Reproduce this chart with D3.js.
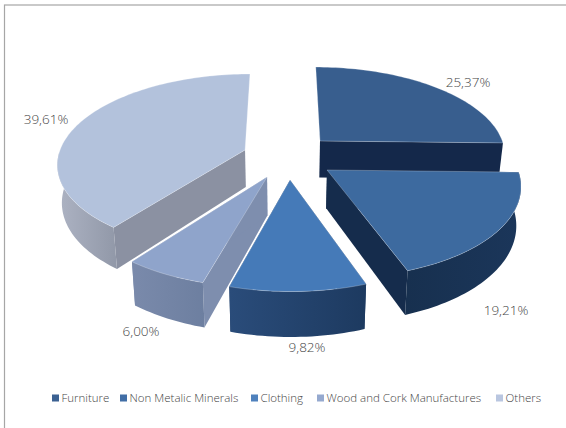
<!DOCTYPE html>
<html>
<head>
<meta charset="utf-8">
<script src="https://cdnjs.cloudflare.com/ajax/libs/d3/7.8.5/d3.min.js"></script>
<style>
  html, body { margin: 0; padding: 0; background: #fff; }
  svg { display: block; }
  text { font-family: "Open Sans", sans-serif; font-weight: 300; fill: #454545; }
</style>
</head>
<body>
<svg id="chart" width="566" height="428"></svg>
<script>
// Export shares by product group, in percent.
const categories = ["Furniture", "Non Metalic Minerals", "Clothing", "Wood and Cork Manufactures", "Others"];
const shares = [25.37, 19.21, 9.82, 6.00, 39.61];

// Fills per slice: top face, curved wall (left to right), radial wall.
const topColors = ["#385e8e", "#3d6a9f", "#457ab8", "#8fa4cb", "#b3c2dc"];
const legendColors = ["#3b6192", "#416ea6", "#4f81bd", "#95a9cf", "#b9c6e0"];
const wallLeft = ["#1a2f50", "#17304f", "#2a4c7a", "#7a8aab", "#adb3c3"];
const wallRight = ["#14294a", "#1b365a", "#1d3a60", "#6d7fa0", "#9198a8"];
const radialColors = ["#14284a", "#152c4c", "#1f3c63", "#7e8eae", "#8b91a2"];

// Horizontal shift of each slice away from the pie centre, in disc radii,
// across (u) and towards the viewer (v).
const shiftU = [0.192, 0.22, 0.026, -0.093, -0.216];
const shiftV = [-0.1056, 0.2237, 0.33, 0.2987, 0];

const perspective = 0.14;
const depth = 37;

const xScale = d3.scaleLinear().domain([-1, 1]).range([100, 470]);
const yScale = d3.scaleLinear().domain([-1, 1]).range([63.4, 236.6]);

// Perspective projection of a disc point; z = 1 is the underside of the pie.
function project(u, v, z) {
  const s = 1 / (1 - perspective * v);
  const shrink = 1 - 0.02 * z;
  const cx = xScale(0);
  return [cx + (xScale(u * s) - cx) * shrink, yScale(v * s) + z * depth * s];
}

const arcs = d3.pie().sort(null).startAngle(0).endAngle(2 * Math.PI)(shares);
const line = d3.line();
const svg = d3.select("#chart");
const defs = svg.append("defs");

// Chart frame, only its top and left edges fall inside the page
svg.append("rect")
  .attr("x", 4.5).attr("y", 5).attr("width", 580).attr("height", 450)
  .attr("fill", "#fff").attr("stroke", "#a6a6a6").attr("stroke-width", 1.2);

const rimPoint = (i, a, z) =>
  project(shiftU[i] + Math.sin(a), shiftV[i] - Math.cos(a), z);
const apexPoint = (i, z) => project(shiftU[i], shiftV[i], z);

const rimAngles = d => {
  const n = Math.ceil((d.endAngle - d.startAngle) * 40);
  return d3.range(n + 1).map(k => d.startAngle + (d.endAngle - d.startAngle) * k / n);
};

// Back slices first, so the nearer ones overlap them.
const paintOrder = [4, 0, 3, 2, 1];

paintOrder.forEach(i => {
  const d = arcs[i];
  const angles = rimAngles(d);
  const g = svg.append("g").attr("class", "slice");

  const wallGradient = defs.append("linearGradient")
    .attr("id", "wall" + i)
    .attr("x1", 0).attr("x2", 1).attr("y1", 0).attr("y2", 0);
  wallGradient.append("stop").attr("offset", 0).attr("stop-color", wallLeft[i]);
  wallGradient.append("stop").attr("offset", 1).attr("stop-color", wallRight[i]);

  // Radial walls; a wall lying on the twelve o'clock line faces away from the viewer
  [d.startAngle, d.endAngle]
    .filter(a => Math.abs(Math.sin(a)) > 1e-6)
    .forEach(a => {
      const quad = [rimPoint(i, a, 0), apexPoint(i, 0), apexPoint(i, 1), rimPoint(i, a, 1)];
      g.append("path").attr("d", line(quad) + "Z").attr("fill", radialColors[i]);
    });

  // Curved outer wall, front half of the rim only
  const front = angles.filter(a => Math.cos(a) < 0);
  if (front.length > 1) {
    const outer = front.map(a => rimPoint(i, a, 0))
      .concat(front.slice().reverse().map(a => rimPoint(i, a, 1)));
    g.append("path").attr("d", line(outer) + "Z").attr("fill", `url(#wall${i})`);
  }

  // Top face with a faint light rim
  const top = [apexPoint(i, 0)].concat(angles.map(a => rimPoint(i, a, 0)));
  g.append("path").attr("d", line(top) + "Z")
    .attr("fill", topColors[i])
    .attr("stroke", "#ffffff").attr("stroke-opacity", 0.35).attr("stroke-width", 0.7);
});

// Value labels, decimal comma as printed on the chart
const labelSpots = [[468, 82], [506, 310], [307, 347], [141, 331], [46, 119]];
const fmt = d3.format(".2f");
svg.selectAll("text.value").data(shares).join("text")
  .attr("class", "value")
  .attr("x", (d, i) => labelSpots[i][0])
  .attr("y", (d, i) => labelSpots[i][1])
  .attr("dy", "0.35em")
  .attr("text-anchor", "middle")
  .attr("font-size", 13.5)
  .text(d => fmt(d).replace(".", ",") + "%");

// Legend
const legendX = [52, 120, 251, 317, 496];
const legend = svg.selectAll("g.legend").data(categories).join("g")
  .attr("class", "legend")
  .attr("transform", (d, i) => `translate(${legendX[i]},398)`);
legend.append("rect")
  .attr("x", 0).attr("y", -3.5).attr("width", 7).attr("height", 7)
  .attr("fill", (d, i) => legendColors[i]);
legend.append("text")
  .attr("x", 9.5).attr("dy", "0.35em")
  .attr("font-size", 11.5)
  .text(d => d);
</script>
</body>
</html>
